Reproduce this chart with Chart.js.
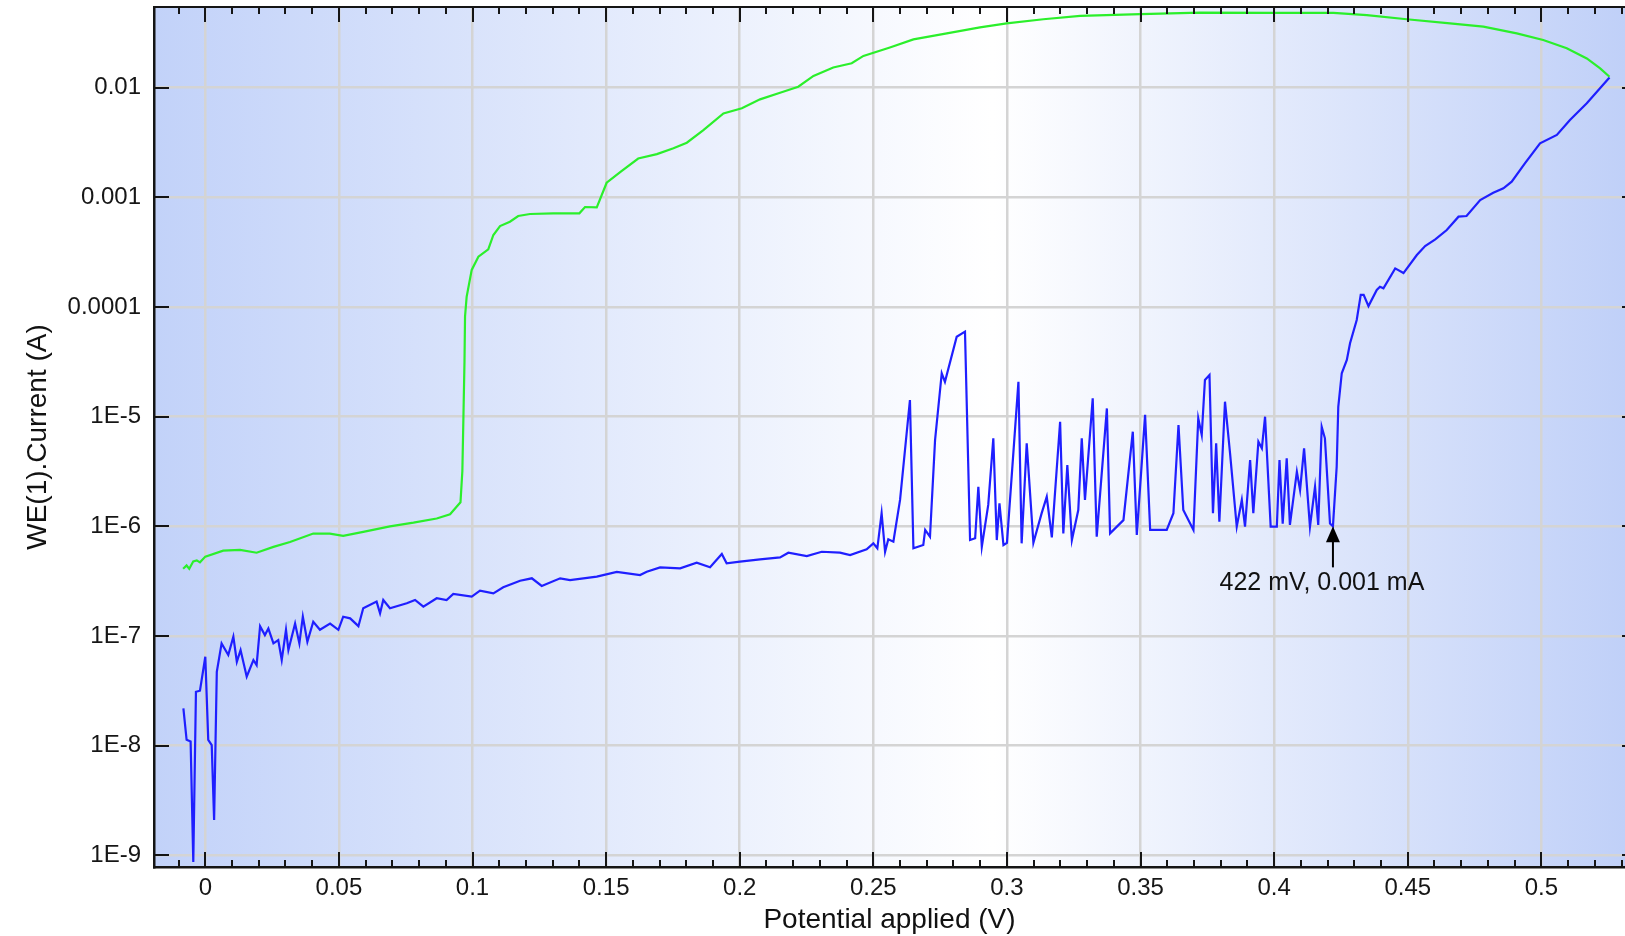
<!DOCTYPE html>
<html>
<head>
<meta charset="utf-8">
<script src="https://cdn.jsdelivr.net/npm/chart.js@4.4.1/dist/chart.umd.min.js"></script>
<style>
html,body{margin:0;padding:0;background:#ffffff;}
#wrap{width:1625px;height:936px;position:relative;}
</style>
</head>
<body>
<div id="wrap"><canvas id="c" width="1625" height="936"></canvas></div>
<script>
// ---- Forward scan (blue) ----
const forwardPotential = [
-0.0082,-0.0070,-0.0055,-0.0045,-0.0035,-0.0020,0.0000,0.0011,0.0024,0.0033,
0.0043,0.0061,0.0086,0.0105,0.0118,0.0132,0.0155,0.0180,0.0192,0.0205,
0.0223,0.0236,0.0255,0.0273,0.0286,0.0302,0.0311,0.0336,0.0352,0.0365,
0.0382,0.0404,0.0429,0.0467,0.0498,0.0516,0.0542,0.0573,0.0591,0.0641,
0.0654,0.0666,0.0691,0.0754,0.0785,0.0816,0.0866,0.0903,0.0928,0.0997,
0.1028,0.1078,0.1115,0.1178,0.1222,0.1259,0.1328,0.1365,0.1415,0.1465,
0.1540,0.1627,0.1652,0.1702,0.1777,0.1839,0.1889,0.1933,0.1951,0.2001,
0.2076,0.2151,0.2182,0.2251,0.2307,0.2375,0.2413,0.2475,0.2500,0.2515,
0.2531,0.2544,0.2556,0.2575,0.2600,0.2637,0.2650,0.2687,0.2694,0.2712,
0.2731,0.2756,0.2768,0.2812,0.2843,0.2862,0.2881,0.2893,0.2906,0.2930,
0.2949,0.2962,0.2972,0.2987,0.3000,0.3043,0.3055,0.3074,0.3099,0.3130,
0.3149,0.3168,0.3199,0.3211,0.3226,0.3243,0.3267,0.3280,0.3292,0.3321,
0.3336,0.3374,0.3386,0.3436,0.3471,0.3486,0.3517,0.3536,0.3598,0.3623,
0.3642,0.3660,0.3698,0.3716,0.3729,0.3741,0.3758,0.3771,0.3783,0.3795,
0.3816,0.3835,0.3860,0.3879,0.3891,0.3910,0.3922,0.3941,0.3954,0.3966,
0.3987,0.4010,0.4020,0.4032,0.4047,0.4059,0.4085,0.4097,0.4112,0.4134,
0.4153,0.4165,0.4178,0.4190,0.4209,0.4220,0.4234,0.4240,0.4253,0.4272,
0.4284,0.4309,0.4324,0.4335,0.4353,0.4384,0.4396,0.4409,0.4453,0.4484,
0.4534,0.4565,0.4603,0.4646,0.4690,0.4720,0.4771,0.4820,0.4858,0.4889,
0.4939,0.4995,0.5058,0.5107,0.5170,0.5255
];
const forwardCurrent = [
2.19e-8,1.13e-8,1.09e-8,8.7e-10,3.1e-8,3.17e-8,6.47e-8,1.13e-8,1.01e-8,2.1e-9,
4.72e-8,8.57e-8,6.71e-8,9.86e-8,5.83e-8,7.45e-8,4.26e-8,6.04e-8,5.43e-8,1.23e-7,
1.02e-7,1.17e-7,8.57e-8,9.18e-8,6.04e-8,1.14e-7,7.45e-8,1.30e-7,8.57e-8,1.50e-7,
8.87e-8,1.35e-7,1.14e-7,1.30e-7,1.14e-7,1.50e-7,1.45e-7,1.23e-7,1.79e-7,2.06e-7,
1.61e-7,2.13e-7,1.79e-7,1.99e-7,2.13e-7,1.85e-7,2.21e-7,2.13e-7,2.42e-7,2.29e-7,
2.59e-7,2.45e-7,2.78e-7,3.19e-7,3.36e-7,2.86e-7,3.36e-7,3.24e-7,3.36e-7,3.48e-7,
3.85e-7,3.60e-7,3.85e-7,4.23e-7,4.14e-7,4.66e-7,4.23e-7,5.60e-7,4.60e-7,4.76e-7,
5.00e-7,5.21e-7,5.75e-7,5.36e-7,5.87e-7,5.75e-7,5.48e-7,6.18e-7,7.00e-7,6.31e-7,
1.32e-6,5.87e-7,7.62e-7,7.24e-7,1.74e-6,1.42e-5,6.31e-7,6.76e-7,9.27e-7,8.05e-7,
6.12e-6,2.49e-5,2.08e-5,5.36e-5,5.96e-5,7.50e-7,7.78e-7,2.30e-6,6.52e-7,1.57e-6,
6.35e-6,7.50e-7,1.62e-6,6.76e-7,7.08e-7,2.08e-5,7.00e-7,5.71e-6,7.10e-7,1.32e-6,
1.86e-6,7.94e-7,9.00e-6,8.63e-7,3.62e-6,7.50e-7,1.41e-6,6.35e-6,1.74e-6,1.47e-5,
8.05e-7,1.19e-5,8.63e-7,1.14e-6,7.30e-6,8.34e-7,1.04e-5,9.27e-7,9.27e-7,1.32e-6,
8.40e-6,1.41e-6,9.27e-7,9.66e-6,6.81e-6,2.16e-5,2.40e-5,1.32e-6,5.71e-6,1.10e-6,
1.37e-5,4.62e-6,9.93e-7,1.74e-6,9.93e-7,4.03e-6,1.32e-6,5.92e-6,5.15e-6,1.00e-5,
9.93e-7,9.93e-7,4.03e-6,1.06e-6,4.17e-6,1.03e-6,3.15e-6,2.14e-6,5.15e-6,9.93e-7,
2.30e-6,1.03e-6,8.09e-6,6.35e-6,1.06e-6,1.00e-6,3.50e-6,1.23e-5,2.49e-5,3.29e-5,
4.67e-5,7.62e-5,1.29e-4,1.29e-4,1.02e-4,1.43e-4,1.53e-4,1.48e-4,2.25e-4,2.04e-4,
2.98e-4,3.60e-4,4.14e-4,5.04e-4,6.67e-4,6.76e-4,9.46e-4,1.10e-3,1.21e-3,1.39e-3,
2.05e-3,3.11e-3,3.71e-3,5.07e-3,7.21e-3,1.24e-2
];

// ---- Reverse scan (green) ----
const reversePotential = [
-0.0083,-0.0070,-0.0060,-0.0045,-0.0032,-0.0020,0.0000,0.0067,0.0130,0.0192,
0.0255,0.0317,0.0404,0.0466,0.0516,0.0591,0.0691,0.0779,0.0866,0.0916,
0.0955,0.0962,0.0966,0.0970,0.0972,0.0978,0.0997,0.1022,0.1059,0.1078,
0.1103,0.1140,0.1171,0.1215,0.1302,0.1400,0.1421,0.1465,0.1502,0.1555,
0.1620,0.1690,0.1752,0.1802,0.1864,0.1939,0.2008,0.2076,0.2151,0.2219,
0.2276,0.2350,0.2419,0.2463,0.2562,0.2650,0.2775,0.2899,0.2999,0.3136,
0.3274,0.3500,0.3723,0.3997,0.4222,0.4347,0.4496,0.4658,0.4783,0.4908,
0.5007,0.5095,0.5170,0.5220,0.5255
];
const reverseCurrent = [
4.1e-7,4.4e-7,4.1e-7,4.8e-7,4.9e-7,4.7e-7,5.3e-7,6.0e-7,6.1e-7,5.75e-7,
6.5e-7,7.2e-7,8.6e-7,8.6e-7,8.2e-7,8.9e-7,1.0e-6,1.08e-6,1.18e-6,1.29e-6,
1.66e-6,3.2e-6,1.0e-5,3.2e-5,8.2e-5,1.24e-4,2.18e-4,2.88e-4,3.36e-4,4.54e-4,
5.48e-4,6.0e-4,6.76e-4,7.05e-4,7.16e-4,7.16e-4,8.17e-4,8.09e-4,1.36e-3,1.72e-3,
2.26e-3,2.48e-3,2.8e-3,3.15e-3,4.1e-3,5.83e-3,6.49e-3,7.83e-3,9.0e-3,1.02e-2,
1.28e-2,1.53e-2,1.67e-2,1.95e-2,2.33e-2,2.76e-2,3.13e-2,3.55e-2,3.86e-2,4.21e-2,
4.51e-2,4.68e-2,4.83e-2,4.81e-2,4.81e-2,4.6e-2,4.21e-2,3.86e-2,3.6e-2,3.13e-2,
2.72e-2,2.29e-2,1.85e-2,1.5e-2,1.26e-2
];

// ---- Axes ----
const xTickValues = [0,0.05,0.1,0.15,0.2,0.25,0.3,0.35,0.4,0.45,0.5];
const xTickLabels = ['0','0.05','0.1','0.15','0.2','0.25','0.3','0.35','0.4','0.45','0.5'];
const xMinorTickValues = [-0.01,0.01,0.02,0.03,0.04,0.06,0.07,0.08,0.09,0.11,0.12,0.13,0.14,0.16,0.17,0.18,0.19,
  0.21,0.22,0.23,0.24,0.26,0.27,0.28,0.29,0.31,0.32,0.33,0.34,0.36,0.37,0.38,0.39,0.41,0.42,0.43,0.44,
  0.46,0.47,0.48,0.49,0.51,0.52,0.53];
const yTickValues = [1e-9,1e-8,1e-7,1e-6,1e-5,1e-4,1e-3,1e-2];
const yTickLabels = ['1E-9','1E-8','1E-7','1E-6','1E-5','0.0001','0.001','0.01'];

// ---- Annotation ----
const markerPotential = 0.422;
const markerCurrent = 1.0e-6;
const markerText = '422 mV, 0.001 mA';

const FONT = "'Liberation Sans', Arial, sans-serif";

const backgroundPlugin = {
  id: 'plotBackground',
  beforeDraw(chart) {
    const {ctx, chartArea: a} = chart;
    const g = ctx.createLinearGradient(a.left, 0, a.right, 0);
    g.addColorStop(0, 'rgb(194,210,249)');
    g.addColorStop(0.57, 'rgb(255,255,255)');
    g.addColorStop(1, 'rgb(192,208,248)');
    ctx.save();
    ctx.fillStyle = g;
    ctx.fillRect(a.left, a.top, a.right - a.left, a.bottom - a.top);
    ctx.restore();
  }
};

const tickPlugin = {
  id: 'insideTicks',
  afterDraw(chart) {
    const {ctx, chartArea: a} = chart;
    const xs = chart.scales.x, ys = chart.scales.y;
    ctx.save();
    ctx.strokeStyle = '#151515';
    ctx.lineWidth = 2;
    ctx.beginPath(); ctx.moveTo(a.left, a.top); ctx.lineTo(a.right, a.top); ctx.stroke();
    ctx.beginPath();
    xTickValues.forEach(v => {
      const p = Math.round(xs.getPixelForValue(v));
      ctx.moveTo(p, a.bottom); ctx.lineTo(p, a.bottom - 15);
      ctx.moveTo(p, a.top); ctx.lineTo(p, a.top + 15);
    });
    xMinorTickValues.forEach(v => {
      const p = Math.round(xs.getPixelForValue(v));
      ctx.moveTo(p, a.bottom); ctx.lineTo(p, a.bottom - 7);
      ctx.moveTo(p, a.top); ctx.lineTo(p, a.top + 7);
    });
    yTickValues.forEach(v => {
      const p = Math.round(ys.getPixelForValue(v));
      ctx.moveTo(a.left, p); ctx.lineTo(a.left + 15, p);
      ctx.moveTo(a.right, p); ctx.lineTo(a.right - 3, p);
    });
    ctx.stroke();
    ctx.restore();
  }
};

const markerPlugin = {
  id: 'marker',
  afterDatasetsDraw(chart) {
    const {ctx} = chart;
    const px = chart.scales.x.getPixelForValue(markerPotential);
    const py = chart.scales.y.getPixelForValue(markerCurrent);
    ctx.save();
    ctx.fillStyle = '#000';
    ctx.strokeStyle = '#000';
    ctx.lineWidth = 2;
    ctx.beginPath();
    ctx.moveTo(px, py);
    ctx.lineTo(px - 7, py + 16);
    ctx.lineTo(px + 7, py + 16);
    ctx.closePath();
    ctx.fill();
    ctx.beginPath();
    ctx.moveTo(px, py + 14);
    ctx.lineTo(px, py + 41);
    ctx.stroke();
    ctx.font = '25px ' + FONT;
    ctx.fillStyle = '#111';
    ctx.textAlign = 'center';
    ctx.textBaseline = 'middle';
    ctx.fillText(markerText, px - 11, py + 57);
    ctx.restore();
  }
};

const ctx = document.getElementById('c').getContext('2d');
new Chart(ctx, {
  type: 'line',
  data: {
    datasets: [
      {
        label: 'Reverse scan',
        data: reversePotential.map((x, i) => ({x: x, y: reverseCurrent[i]})),
        borderColor: '#2bef2b',
        borderWidth: 2.2,
        pointRadius: 0,
        tension: 0,
        fill: false
      },
      {
        label: 'Forward scan',
        data: forwardPotential.map((x, i) => ({x: x, y: forwardCurrent[i]})),
        borderColor: '#1f1fff',
        borderWidth: 2.2,
        pointRadius: 0,
        tension: 0,
        fill: false
      }
    ]
  },
  options: {
    responsive: false,
    animation: false,
    layout: {padding: {top: 7, right: 0, bottom: 0, left: 0}},
    plugins: {legend: {display: false}, tooltip: {enabled: false}},
    scales: {
      x: {
        type: 'linear',
        min: -0.0192,
        max: 0.5313,
        afterBuildTicks: s => { s.ticks = xTickValues.map(v => ({value: v})); },
        afterFit: s => { s.height = 69; s.paddingLeft = 0; s.paddingRight = 0; },
        ticks: {
          callback: (v, i) => xTickLabels[i],
          font: {family: FONT, size: 24},
          color: '#161616',
          padding: 7,
          maxRotation: 0,
          autoSkip: false
        },
        grid: {color: 'rgb(212,212,212)', lineWidth: 2.5, drawTicks: false},
        border: {display: true, color: '#151515', width: 2.5},
        title: {
          display: true,
          text: 'Potential applied (V)',
          font: {family: FONT, size: 28, lineHeight: 1.1},
          color: '#111',
          padding: {top: 0, bottom: 0}
        }
      },
      y: {
        type: 'logarithmic',
        min: 7.83e-10,
        max: 0.05445,
        afterBuildTicks: s => { s.ticks = yTickValues.map(v => ({value: v})); },
        afterFit: s => { s.width = 154; s.paddingTop = 0; s.paddingBottom = 0; },
        ticks: {
          callback: (v, i) => yTickLabels[i],
          font: {family: FONT, size: 24},
          color: '#161616',
          padding: 13,
          autoSkip: false
        },
        grid: {color: 'rgb(212,212,212)', lineWidth: 2.5, drawTicks: false},
        border: {display: true, color: '#151515', width: 2.5},
        title: {
          display: true,
          text: 'WE(1).Current (A)',
          font: {family: FONT, size: 28},
          color: '#111',
          padding: {top: 21, bottom: 0}
        }
      }
    }
  },
  plugins: [backgroundPlugin, tickPlugin, markerPlugin]
});
</script>
</body>
</html>
